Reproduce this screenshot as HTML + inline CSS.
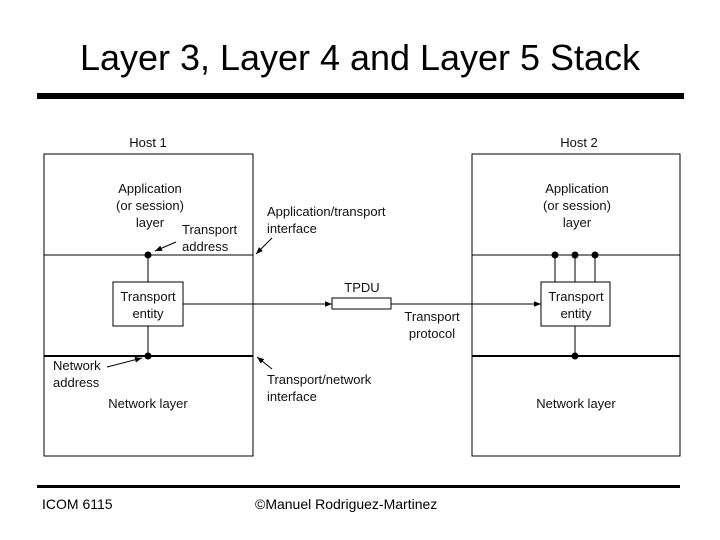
<!DOCTYPE html>
<html><head><meta charset="utf-8"><style>
html,body{margin:0;padding:0;background:#fff;}
svg{display:block;font-family:"Liberation Sans",Arial,sans-serif;}
</style></head><body>
<svg width="720" height="540" viewBox="0 0 720 540" xmlns="http://www.w3.org/2000/svg">
<defs>
<marker id="ah" viewBox="0 0 10 10" refX="10" refY="5" markerWidth="7" markerHeight="7" orient="auto" markerUnits="userSpaceOnUse"><path d="M0,1 L10,5 L0,9 z" fill="#000"/></marker>
</defs>
<text x="360" y="70" font-size="36" text-anchor="middle" textLength="560" lengthAdjust="spacingAndGlyphs">Layer 3, Layer 4 and Layer 5 Stack</text>
<rect x="37" y="93" width="647" height="6" fill="#000"/>
<rect x="37" y="485" width="643" height="3" fill="#000"/>
<text x="42" y="509" font-size="14">ICOM 6115</text>
<text x="255" y="509" font-size="14">©Manuel Rodriguez-Martinez</text>

<g font-size="13" fill="#111" stroke="none">
<text x="148" y="147" text-anchor="middle">Host 1</text>
<text x="579" y="147" text-anchor="middle">Host 2</text>
<text x="150" y="193" text-anchor="middle">Application</text>
<text x="150" y="210" text-anchor="middle">(or session)</text>
<text x="150" y="227" text-anchor="middle">layer</text>
<text x="182" y="234">Transport</text>
<text x="182" y="251">address</text>
<text x="148" y="301" text-anchor="middle">Transport</text>
<text x="148" y="318" text-anchor="middle">entity</text>
<text x="53" y="370">Network</text>
<text x="53" y="387">address</text>
<text x="148" y="408" text-anchor="middle">Network layer</text>
<text x="267" y="216">Application/transport</text>
<text x="267" y="233">interface</text>
<text x="267" y="384">Transport/network</text>
<text x="267" y="401">interface</text>
<text x="362" y="292" text-anchor="middle">TPDU</text>
<text x="432" y="321" text-anchor="middle">Transport</text>
<text x="432" y="338" text-anchor="middle">protocol</text>
<text x="577" y="193" text-anchor="middle">Application</text>
<text x="577" y="210" text-anchor="middle">(or session)</text>
<text x="577" y="227" text-anchor="middle">layer</text>
<text x="576" y="301" text-anchor="middle">Transport</text>
<text x="576" y="318" text-anchor="middle">entity</text>
<text x="576" y="408" text-anchor="middle">Network layer</text>
</g>

<g stroke="#000" fill="none" stroke-width="1">
<rect x="44" y="154" width="209" height="302"/>
<line x1="44" y1="255" x2="253" y2="255"/>
<line x1="44" y1="356" x2="253" y2="356" stroke-width="2"/>
<rect x="113" y="282" width="70" height="44"/>
<line x1="148" y1="255" x2="148" y2="282"/>
<line x1="148" y1="326" x2="148" y2="356"/>
<rect x="472" y="154" width="208" height="302"/>
<line x1="472" y1="255" x2="680" y2="255"/>
<line x1="472" y1="356" x2="680" y2="356" stroke-width="2"/>
<rect x="541" y="282" width="69" height="44"/>
<line x1="555" y1="255" x2="555" y2="282"/>
<line x1="575" y1="255" x2="575" y2="282"/>
<line x1="595" y1="255" x2="595" y2="282"/>
<line x1="575" y1="326" x2="575" y2="356"/>
<line x1="183" y1="304" x2="332" y2="304" marker-end="url(#ah)"/>
<rect x="332" y="298" width="59" height="11"/>
<line x1="391" y1="304" x2="541" y2="304" marker-end="url(#ah)"/>
<line x1="176" y1="242" x2="155" y2="251" marker-end="url(#ah)"/>
<line x1="107" y1="367" x2="142" y2="358" marker-end="url(#ah)"/>
<line x1="272" y1="238" x2="256" y2="254" marker-end="url(#ah)"/>
<line x1="272" y1="369" x2="257" y2="357" marker-end="url(#ah)"/>
</g>
<g fill="#000">
<circle cx="148" cy="255" r="3.5"/>
<circle cx="148" cy="356" r="3.5"/>
<circle cx="555" cy="255" r="3.5"/>
<circle cx="575" cy="255" r="3.5"/>
<circle cx="595" cy="255" r="3.5"/>
<circle cx="575" cy="356" r="3.5"/>
</g>
</svg>
</body></html>
